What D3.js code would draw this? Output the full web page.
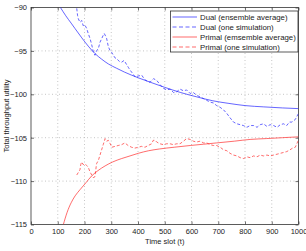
<!DOCTYPE html>
<html>
<head>
<meta charset="utf-8">
<script src="https://cdn.jsdelivr.net/npm/d3@7"></script>
<style>
  body { margin: 0; background: #fff; }
  svg { font-family: "Liberation Sans", Arial, sans-serif; }
</style>
</head>
<body>
<div id="chart"></div>
<script>
// values: [time slot, utility]
const dualAvg = [
  [108, -89.9], [130, -90.95], [150, -91.8], [164, -92.4], [190, -93.5], [214, -94.45],
  [239, -95.3], [264, -95.95], [289, -96.5], [320, -97.0], [350, -97.45], [401, -98.1],
  [445, -98.6], [500, -99.2], [560, -99.8], [620, -100.3], [680, -100.75], [740, -101.05],
  [800, -101.3], [870, -101.45], [940, -101.57], [1000, -101.65]
];
const dualSim = [
  [171, -90.1], [174, -90.9], [177, -91.3], [183, -91.7], [190, -91.5], [195, -92.1],
  [201, -92.0], [208, -92.4], [214, -93.0], [221, -93.6], [227, -94.3], [233, -95.1],
  [239, -95.5], [245, -95.0], [252, -94.7], [258, -94.0], [264, -93.6], [270, -93.2],
  [274, -93.0], [279, -93.3], [283, -93.6], [289, -94.5], [296, -95.0], [302, -95.2],
  [308, -95.5], [314, -95.8], [320, -95.9], [330, -96.2], [339, -96.3], [348, -96.1],
  [358, -96.6], [364, -96.9], [370, -97.2], [380, -97.6], [389, -98.0], [400, -97.9],
  [414, -97.8], [425, -98.3], [435, -98.5], [445, -98.6], [458, -98.2], [470, -98.4],
  [483, -98.9], [494, -99.3], [507, -99.5], [520, -99.4], [533, -99.8], [545, -99.7],
  [557, -99.4], [570, -99.6], [582, -99.5], [595, -99.9], [607, -99.8], [619, -100.1],
  [632, -100.3], [645, -100.5], [657, -100.7], [670, -100.9], [682, -101.0], [694, -101.3],
  [707, -101.5], [720, -101.8], [732, -102.2], [744, -102.7], [757, -103.2], [770, -103.4],
  [782, -103.5], [794, -103.6], [807, -103.8], [819, -103.6], [832, -103.6], [845, -103.8],
  [857, -103.5], [869, -103.4], [882, -103.7], [894, -103.5], [907, -103.6], [920, -103.8],
  [932, -103.5], [944, -103.4], [956, -103.6], [966, -103.2], [975, -103.2], [988, -102.9],
  [1000, -102.2]
];
const primalAvg = [
  [121, -115.0], [135, -113.6], [150, -112.5], [165, -111.7], [183, -111.0], [205, -110.2],
  [227, -109.4], [250, -108.8], [277, -108.25], [305, -107.8], [339, -107.4], [370, -107.1],
  [401, -106.8], [440, -106.5], [480, -106.3], [535, -106.1], [595, -105.9], [645, -105.75],
  [694, -105.6], [760, -105.4], [819, -105.2], [880, -105.1], [940, -105.0], [1000, -104.9]
];
const primalSim = [
  [171, -109.3], [177, -109.0], [183, -108.7], [186, -108.1], [189, -107.8], [195, -108.1],
  [202, -108.0], [208, -108.2], [214, -108.4], [220, -108.9], [227, -109.3], [233, -109.6],
  [239, -109.5], [245, -108.0], [252, -107.6], [258, -107.0], [264, -106.4], [270, -105.8],
  [277, -105.1], [283, -105.4], [289, -105.3], [296, -105.7], [302, -106.1], [314, -106.0],
  [326, -105.9], [339, -105.8], [351, -105.6], [363, -105.9], [376, -106.1], [388, -106.2],
  [401, -106.1], [413, -106.0], [426, -106.1], [438, -105.9], [451, -105.7], [457, -105.3],
  [464, -105.3], [470, -105.5], [482, -105.7], [495, -105.8], [507, -105.7], [520, -105.7],
  [532, -105.8], [545, -105.7], [557, -105.7], [570, -105.4], [582, -105.1], [595, -105.2],
  [607, -105.4], [619, -105.5], [632, -105.4], [645, -105.6], [657, -105.6], [670, -105.8],
  [682, -105.9], [694, -105.9], [707, -106.1], [720, -106.4], [732, -106.5], [744, -106.8],
  [757, -107.0], [770, -107.1], [782, -107.3], [794, -107.4], [807, -107.2], [819, -107.3],
  [832, -107.1], [845, -107.2], [857, -107.0], [869, -107.1], [882, -107.0], [894, -107.1],
  [907, -107.0], [920, -106.9], [932, -106.8], [944, -106.7], [956, -106.6], [968, -106.4],
  [978, -106.2], [988, -106.1], [995, -105.6], [1000, -105.3]
];

const xTicks = [0, 100, 200, 300, 400, 500, 600, 700, 800, 900, 1000];
const yTicks = [-115, -110, -105, -100, -95, -90];
const seriesNames = [
  'Dual (ensemble average)',
  'Dual (one simulation)',
  'Primal (emsemble average)',
  'Primal (one simulation)'
];

const W = 306, H = 251;
const margin = { top: 7.5, right: 7.5, bottom: 26.5, left: 31 };
const width = W - margin.left - margin.right;
const height = H - margin.top - margin.bottom;

const blue = '#2424ff';
const red = '#ff2d2d';

const svg = d3.select('#chart').append('svg')
  .attr('width', W)
  .attr('height', H);

const plot = svg.append('g')
  .attr('transform', `translate(${margin.left},${margin.top})`);

const x = d3.scaleLinear().domain([0, 1000]).range([0, width]);
const y = d3.scaleLinear().domain([-115, -90]).range([height, 0]);

svg.append('defs').append('clipPath').attr('id', 'clip')
  .append('rect').attr('width', width).attr('height', height);

// dotted grid
const grid = plot.append('g').attr('class', 'grid');
grid.selectAll('line.gx').data(xTicks.slice(1, -1)).join('line')
  .attr('x1', d => x(d)).attr('x2', d => x(d))
  .attr('y1', 0).attr('y2', height);
grid.selectAll('line.gy').data(yTicks.slice(1, -1)).join('line')
  .attr('y1', d => y(d)).attr('y2', d => y(d))
  .attr('x1', 0).attr('x2', width);
grid.selectAll('line')
  .attr('stroke', '#b8b8b8')
  .attr('stroke-width', 0.8)
  .attr('stroke-dasharray', '1,2.5');

// axes with inward ticks (matlab style)
const tickLen = 3;
const axes = [
  { axis: d3.axisBottom(x).tickValues(xTicks).tickSize(-tickLen).tickPadding(4), tr: `translate(0,${height})`, labels: true },
  { axis: d3.axisTop(x).tickValues(xTicks).tickSize(-tickLen), tr: 'translate(0,0)', labels: false },
  { axis: d3.axisLeft(y).tickValues(yTicks).tickSize(-tickLen).tickPadding(4), tr: 'translate(0,0)', labels: true },
  { axis: d3.axisRight(y).tickValues(yTicks).tickSize(-tickLen), tr: `translate(${width},0)`, labels: false }
];
axes.forEach(a => {
  const g = plot.append('g').attr('transform', a.tr).call(a.axis.tickFormat(d => String(d).replace('-', '\u2212')));
  g.select('.domain').remove();
  g.selectAll('line').attr('stroke', '#333').attr('stroke-width', 0.7);
  g.selectAll('text')
    .attr('fill', '#222')
    .style('font-size', '7.5px')
    .style('font-family', '"Liberation Sans", Arial, sans-serif');
  if (!a.labels) g.selectAll('text').remove();
});

plot.append('rect')
  .attr('width', width).attr('height', height)
  .attr('fill', 'none').attr('stroke', '#333').attr('stroke-width', 0.8);

const smooth = d3.line().x(d => x(d[0])).y(d => y(d[1])).curve(d3.curveMonotoneX);
const jagged = d3.line().x(d => x(d[0])).y(d => y(d[1]));

const lines = plot.append('g').attr('clip-path', 'url(#clip)');
const series = [
  { data: dualAvg, color: blue, dash: null },
  { data: dualSim, color: blue, dash: '3,2' },
  { data: primalAvg, color: red, dash: null },
  { data: primalSim, color: red, dash: '3,2' }
];
lines.selectAll('path').data(series).join('path')
  .attr('d', d => (d.dash ? jagged : smooth)(d.data))
  .attr('fill', 'none')
  .attr('stroke', d => d.color)
  .attr('stroke-width', 0.7)
  .attr('stroke-dasharray', d => d.dash);

// legend
const legend = svg.append('g').attr('transform', 'translate(170.5,11)');
legend.append('rect')
  .attr('width', 127.5).attr('height', 41)
  .attr('fill', '#fff').attr('stroke', '#333').attr('stroke-width', 0.8);
const rows = legend.selectAll('g.row').data(series).join('g')
  .attr('transform', (d, i) => `translate(0,${6 + i * 10})`);
rows.append('line')
  .attr('x1', 2).attr('x2', 26.5)
  .attr('stroke', d => d.color)
  .attr('stroke-width', 0.7)
  .attr('stroke-dasharray', d => d.dash ? '4,2.5' : null);
rows.append('text')
  .attr('x', 29.5).attr('y', 2.7)
  .attr('fill', '#222')
  .style('font-size', '7.8px')
  .text((d, i) => seriesNames[i]);

// axis titles
svg.append('text')
  .attr('x', margin.left + width / 2).attr('y', 244)
  .attr('text-anchor', 'middle')
  .attr('fill', '#222')
  .style('font-size', '7.5px')
  .text('Time slot (t)');
svg.append('text')
  .attr('transform', `translate(9,${margin.top + height / 2}) rotate(-90)`)
  .attr('text-anchor', 'middle')
  .attr('fill', '#222')
  .style('font-size', '7.5px')
  .text('Total throughput utility');
</script>
</body>
</html>
